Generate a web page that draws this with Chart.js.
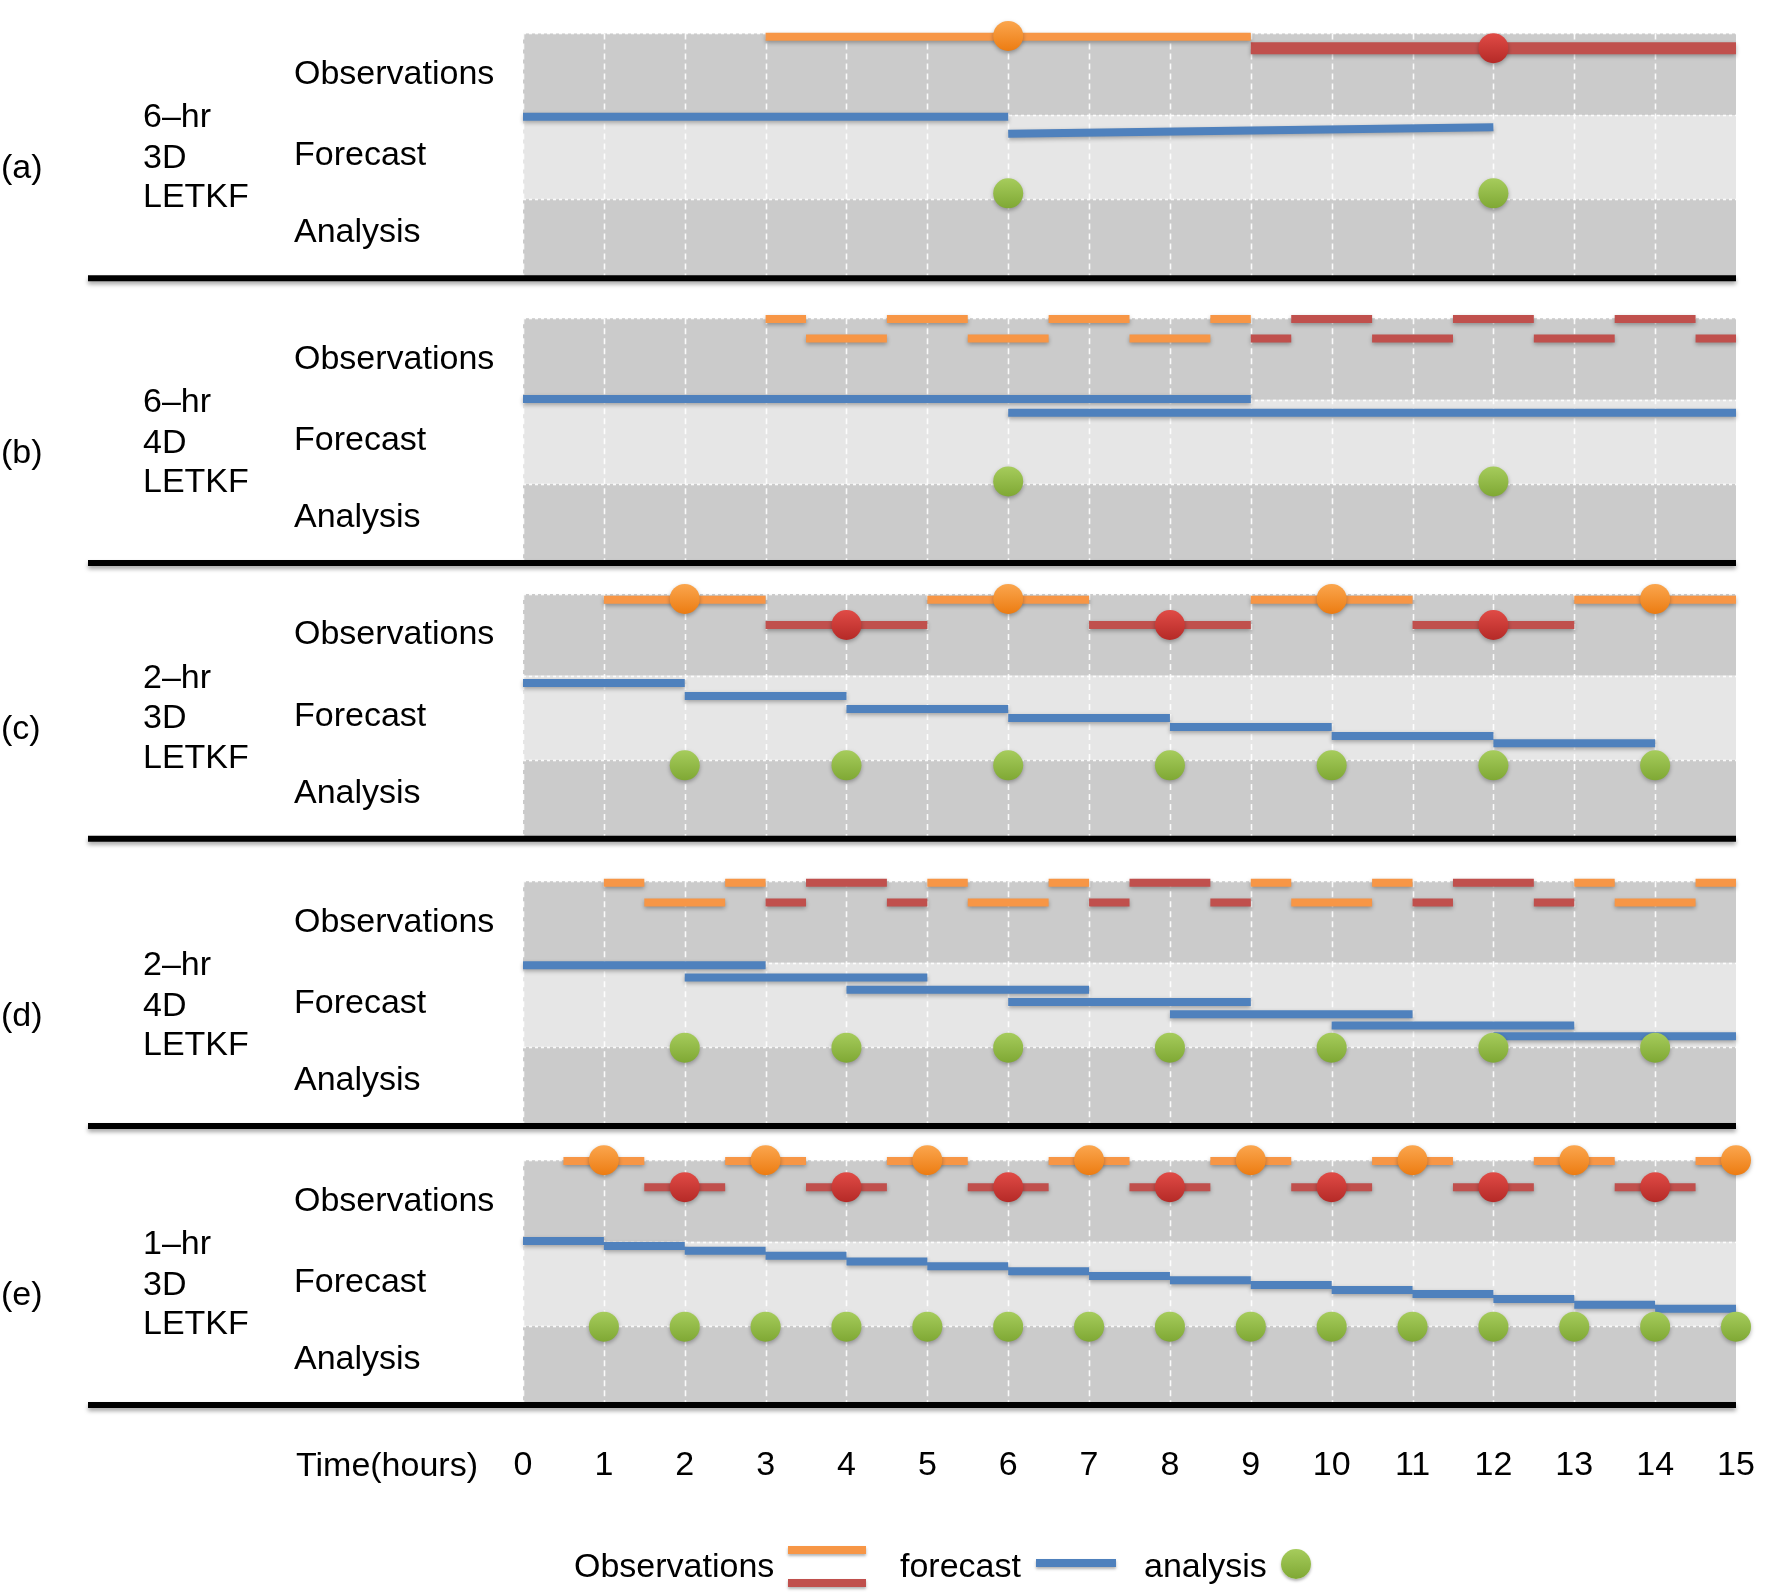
<!DOCTYPE html>
<html>
<head>
<meta charset="utf-8">
<title>LETKF cycling schemes</title>
<script src="https://cdn.jsdelivr.net/npm/chart.js"></script>
<style>
  html, body { margin: 0; padding: 0; background: #fff; }
  body { font-family: "Liberation Sans", Arial, Helvetica, sans-serif; color: #000; }
  #wrap { position: relative; width: 1771px; height: 1594px; overflow: hidden; }
  #chart { position: absolute; left: 0; top: 0; }
  .lbl { position: absolute; font-size: 34px; line-height: 34px; white-space: nowrap; transform: translateY(-50%); }
  .swatch { position: absolute; box-shadow: 0 2px 3px rgba(0,0,0,0.3); }
</style>
</head>
<body>
<div id="wrap"><canvas id="chart"></canvas></div>
<script>
const hours = [0, 1, 2, 3, 4, 5, 6, 7, 8, 9, 10, 11, 12, 13, 14, 15];
const panelTags = ['(a)', '(b)', '(c)', '(d)', '(e)'];
const schemes = [
  ['6–hr', '3D', 'LETKF'],
  ['6–hr', '4D', 'LETKF'],
  ['2–hr', '3D', 'LETKF'],
  ['2–hr', '4D', 'LETKF'],
  ['1–hr', '3D', 'LETKF']
];
const rowNames = ['Observations', 'Forecast', 'Analysis'];

// observation windows [start, end, level], one list per panel (a)..(e)
const orangeObs = [
  [[3, 9, 2.96]],
  [[3, 3.5, 2.99], [4.5, 5.5, 2.99], [6.5, 7.5, 2.99], [8.5, 9, 2.99],
   [3.5, 4.5, 2.75], [5.5, 6.5, 2.75], [7.5, 8.5, 2.75]],
  [[1, 3, 2.93], [5, 7, 2.93], [9, 11, 2.93], [13, 15, 2.93]],
  [[1, 1.5, 2.98], [2.5, 3, 2.98], [5, 5.5, 2.98], [6.5, 7, 2.98], [9, 9.5, 2.98],
   [10.5, 11, 2.98], [13, 13.5, 2.98], [14.5, 15, 2.98],
   [1.5, 2.5, 2.74], [5.5, 6.5, 2.74], [9.5, 10.5, 2.74], [13.5, 14.5, 2.74]],
  [[0.5, 1.5, 2.99], [2.5, 3.5, 2.99], [4.5, 5.5, 2.99], [6.5, 7.5, 2.99],
   [8.5, 9.5, 2.99], [10.5, 11.5, 2.99], [12.5, 13.5, 2.99], [14.5, 15, 2.99]]
];
const redObs = [
  [[9, 15, 2.82]],
  [[9.5, 10.5, 2.99], [11.5, 12.5, 2.99], [13.5, 14.5, 2.99],
   [9, 9.5, 2.75], [10.5, 11.5, 2.75], [12.5, 13.5, 2.75], [14.5, 15, 2.75]],
  [[3, 5, 2.62], [7, 9, 2.62], [11, 13, 2.62]],
  [[3.5, 4.5, 2.98], [7.5, 8.5, 2.98], [11.5, 12.5, 2.98],
   [3, 3.5, 2.74], [4.5, 5, 2.74], [7, 7.5, 2.74], [8.5, 9, 2.74], [11, 11.5, 2.74], [12.5, 13, 2.74]],
  [[1.5, 2.5, 2.67], [3.5, 4.5, 2.67], [5.5, 6.5, 2.67], [7.5, 8.5, 2.67],
   [9.5, 10.5, 2.67], [11.5, 12.5, 2.67], [13.5, 14.5, 2.67]]
];

// observation times marked with a dot [time, level]
const orangeDots = [
  [[6, 2.97]],
  [],
  [[2, 2.94], [6, 2.94], [10, 2.94], [14, 2.94]],
  [],
  [[1, 3.0], [3, 3.0], [5, 3.0], [7, 3.0], [9, 3.0], [11, 3.0], [13, 3.0], [15, 3.0]]
];
const redDots = [
  [[12, 2.82]],
  [],
  [[4, 2.62], [8, 2.62], [12, 2.62]],
  [],
  [[2, 2.67], [4, 2.67], [6, 2.67], [8, 2.67], [10, 2.67], [12, 2.67], [14, 2.67]]
];

// forecast runs [start, level at start, end, level at end]
const forecasts = [
  [[0, 1.98, 6, 1.98], [6, 1.77, 12, 1.85]],
  [[0, 2.01, 9, 2.01], [6, 1.84, 15, 1.84]],
  [[0, 1.91, 2, 1.91], [2, 1.75, 4, 1.75], [4, 1.59, 6, 1.59], [6, 1.48, 8, 1.48],
   [8, 1.37, 10, 1.37], [10, 1.26, 12, 1.26], [12, 1.17, 14, 1.17]],
  [[0, 1.97, 3, 1.97], [2, 1.82, 5, 1.82], [4, 1.67, 7, 1.67], [6, 1.52, 9, 1.52],
   [8, 1.37, 11, 1.37], [10, 1.23, 13, 1.23], [12, 1.10, 15, 1.10]],
  [[0, 2.01, 1, 2.01], [1, 1.95, 2, 1.95], [2, 1.89, 3, 1.89], [3, 1.83, 4, 1.83],
   [4, 1.76, 5, 1.76], [5, 1.70, 6, 1.70], [6, 1.64, 7, 1.64], [7, 1.58, 8, 1.58],
   [8, 1.53, 9, 1.53], [9, 1.47, 10, 1.47], [10, 1.41, 11, 1.41], [11, 1.36, 12, 1.36],
   [12, 1.30, 13, 1.30], [13, 1.23, 14, 1.23], [14, 1.18, 15, 1.18]]
];

// analysis times per panel and the level the dots sit at
const analysisTimes = [
  [6, 12],
  [6, 12],
  [2, 4, 6, 8, 10, 12, 14],
  [2, 4, 6, 8, 10, 12, 14],
  [1, 2, 3, 4, 5, 6, 7, 8, 9, 10, 11, 12, 13, 14, 15]
];
const analysisLevels = [1.04, 1.0, 0.9, 0.96, 0.96];

// layout: each panel is 3 units tall, stacked on one y scale
const panelBase = [13.81, 10.32, 6.94, 3.42, 0];
const yTop = 16.84;
const bandEdges = [0, 0.97, 2.0, 3];
const bandFills = ['#cbcbcb', '#e6e6e6', '#cbcbcb'];
const rowLevels = [2.53, 1.53, 0.59];
const schemeLevels = [2.0, 1.5, 1.02];
const tagLevel = 1.37;
const plotBox = {left: 523, right: 1736, top: 31, bottom: 1405};
const DOT_R = 15;

const ORANGE = '#f79646', RED = '#c0504d', BLUE = '#4f81bd';
const FONT = '"Liberation Sans", Arial, Helvetica, sans-serif';

function segPoints(segs, base) {
  const pts = [];
  segs.forEach(([x0, x1, lv]) => {
    pts.push({x: x0, y: base + lv}, {x: x1, y: base + lv}, {x: x1, y: null});
  });
  return pts;
}
function runPoints(runs, base) {
  const pts = [];
  runs.forEach(([x0, l0, x1, l1]) => {
    pts.push({x: x0, y: base + l0}, {x: x1, y: base + l1}, {x: x1, y: null});
  });
  return pts;
}
function dotFill(light, dark) {
  return (c) => {
    if (!c.raw || c.raw.y == null) return dark;
    const py = c.chart.scales.y ? c.chart.scales.y.getPixelForValue(c.raw.y) : NaN;
    if (!isFinite(py)) return dark;
    const g = c.chart.ctx.createLinearGradient(0, py - DOT_R, 0, py + DOT_R);
    g.addColorStop(0, light);
    g.addColorStop(1, dark);
    return g;
  };
}
function lineSet(data, color, width) {
  return {data, showLine: true, borderColor: color, borderWidth: width, borderCapStyle: 'butt',
          pointRadius: 0, spanGaps: false, clip: false, order: 2};
}
function dotSet(data, light, dark) {
  return {data, showLine: false, pointRadius: DOT_R, pointHoverRadius: DOT_R, pointBorderWidth: 0,
          pointBackgroundColor: dotFill(light, dark), clip: false, order: 0};
}

const datasets = [];
panelBase.forEach((base, p) => {
  datasets.push(lineSet(segPoints(orangeObs[p], base), ORANGE, 8));
  datasets.push(lineSet(segPoints(redObs[p], base), RED, p === 0 ? 12 : 8));
  datasets.push(lineSet(runPoints(forecasts[p], base), BLUE, 8));
  datasets.push(dotSet(orangeDots[p].map(([t, lv]) => ({x: t, y: base + lv})), '#fba64e', '#ec7c12'));
  datasets.push(dotSet(redDots[p].map(([t, lv]) => ({x: t, y: base + lv})), '#e04b46', '#b52a27'));
  datasets.push(dotSet(analysisTimes[p].map(t => ({x: t, y: base + analysisLevels[p]})), '#a6cc5c', '#7fa834'));
});

const panelBackdrop = {
  id: 'panelBackdrop',
  beforeDatasetsDraw(chart) {
    const {ctx, scales: {x, y}} = chart;
    const left = x.getPixelForValue(hours[0]);
    const right = x.getPixelForValue(hours[hours.length - 1]);
    ctx.save();
    panelBase.forEach(base => {
      for (let b = 0; b < 3; b++) {
        const yb = y.getPixelForValue(base + bandEdges[b]);
        const yt = y.getPixelForValue(base + bandEdges[b + 1]);
        ctx.fillStyle = bandFills[b];
        ctx.fillRect(left, yt, right - left, yb - yt);
      }
      const top = y.getPixelForValue(base + 3);
      const bottom = y.getPixelForValue(base);
      ctx.strokeStyle = 'rgba(255,255,255,0.9)';
      ctx.lineWidth = 1.6;
      ctx.setLineDash([6, 4]);
      hours.slice(0, -1).forEach(h => {
        const px = Math.round(x.getPixelForValue(h)) + 0.5;
        ctx.beginPath(); ctx.moveTo(px, top); ctx.lineTo(px, bottom); ctx.stroke();
      });
      ctx.setLineDash([3, 3]);
      bandEdges.slice(1).forEach(e => {
        const py = Math.round(y.getPixelForValue(base + e)) + 0.5;
        ctx.beginPath(); ctx.moveTo(left, py); ctx.lineTo(right, py); ctx.stroke();
      });
      ctx.setLineDash([]);
      ctx.shadowColor = 'rgba(0,0,0,0.35)';
      ctx.shadowBlur = 4;
      ctx.shadowOffsetY = 3;
      ctx.strokeStyle = '#000';
      ctx.lineWidth = 6;
      ctx.beginPath(); ctx.moveTo(88, bottom); ctx.lineTo(right, bottom); ctx.stroke();
      ctx.shadowColor = 'transparent';
    });
    ctx.restore();
  }
};

const softShadow = {
  id: 'softShadow',
  beforeDatasetDraw(chart) {
    const c = chart.ctx;
    c.save();
    c.shadowColor = 'rgba(0,0,0,0.3)';
    c.shadowBlur = 4;
    c.shadowOffsetY = 2;
  },
  afterDatasetDraw(chart) { chart.ctx.restore(); }
};

const chart = new Chart(document.getElementById('chart'), {
  type: 'scatter',
  data: {datasets},
  plugins: [panelBackdrop, softShadow],
  options: {
    responsive: true,
    maintainAspectRatio: false,
    devicePixelRatio: 1,
    animation: false,
    events: [],
    layout: {padding: {left: 523, right: 35, top: 31, bottom: 110}},
    plugins: {legend: {display: false}, tooltip: {enabled: false}},
    scales: {
      x: {
        type: 'linear', min: 0, max: 15,
        afterBuildTicks: s => { s.ticks = hours.map(v => ({value: v})); },
        // end labels may overhang the plot; don't let them shrink it
        afterFit: s => { s.paddingLeft = 0; s.paddingRight = 0; },
        ticks: {font: {size: 34, family: FONT}, color: '#000', padding: 32, maxRotation: 0, autoSkip: false},
        grid: {display: false},
        border: {display: false}
      },
      y: {display: false, min: 0, max: yTop}
    }
  }
});

// nudge the padding so the plot area lands where the reference has it
const area = chart.chartArea;
const pad = chart.options.layout.padding;
chart.options.layout.padding = {
  left: pad.left + (plotBox.left - area.left),
  right: pad.right + (area.right - plotBox.right),
  top: pad.top + (plotBox.top - area.top),
  bottom: pad.bottom + (area.bottom - plotBox.bottom)
};
chart.update();

// text labels beside each panel
const wrap = document.getElementById('wrap');
function addLabel(text, left, top) {
  const d = document.createElement('div');
  d.className = 'lbl';
  d.textContent = text;
  d.style.left = left + 'px';
  d.style.top = top + 'px';
  wrap.appendChild(d);
  return d;
}
const ys = chart.scales.y;
panelBase.forEach((base, p) => {
  addLabel(panelTags[p], 1, ys.getPixelForValue(base + tagLevel));
  schemes[p].forEach((s, i) => addLabel(s, 143, ys.getPixelForValue(base + schemeLevels[i])));
  rowNames.forEach((r, i) => addLabel(r, 294, ys.getPixelForValue(base + rowLevels[i])));
});
addLabel('Time(hours)', 296, 1464);

// legend
function addSwatch(left, top, w, h, bg, round) {
  const d = document.createElement('div');
  d.className = 'swatch';
  Object.assign(d.style, {left: left + 'px', top: top + 'px', width: w + 'px', height: h + 'px', background: bg});
  if (round) d.style.borderRadius = '50%';
  wrap.appendChild(d);
}
addLabel('Observations', 574, 1565);
addSwatch(788, 1546, 78, 8, ORANGE);
addSwatch(788, 1579, 78, 8, RED);
addLabel('forecast', 900, 1565);
addSwatch(1036, 1559, 80, 8, BLUE);
addLabel('analysis', 1144, 1565);
addSwatch(1281, 1549, 30, 30, 'linear-gradient(#a6cc5c, #7fa834)', true);
</script>
</body>
</html>
